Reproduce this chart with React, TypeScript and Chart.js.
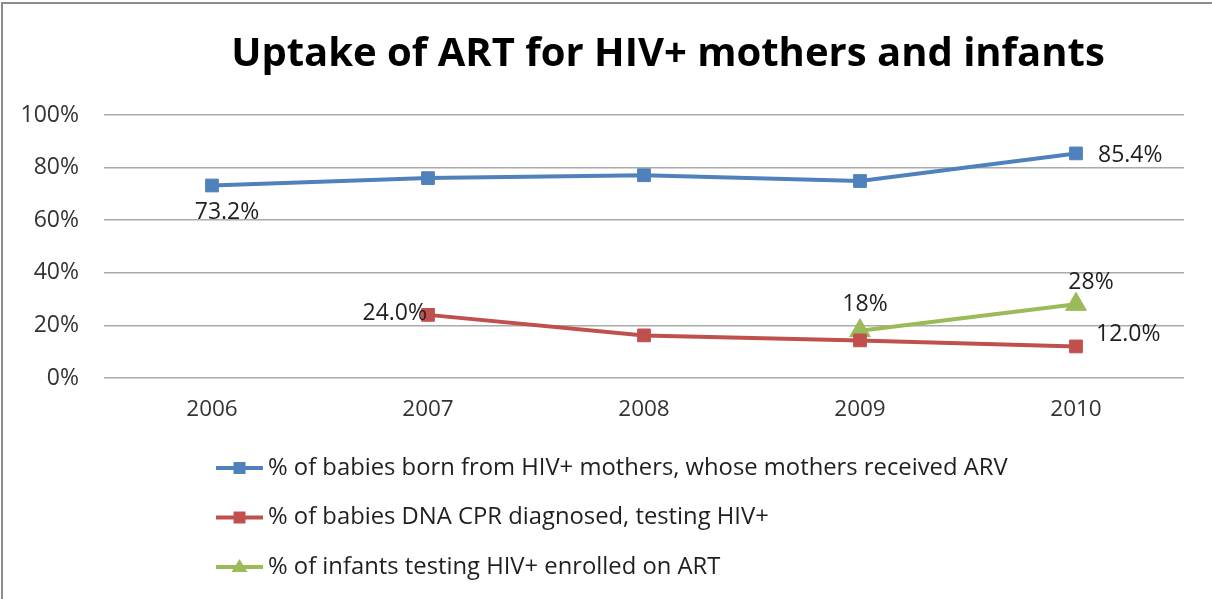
import React, { useEffect, useRef } from "react";
import { Chart, registerables } from "chart.js";

Chart.register(...registerables);

const titleText = "Uptake of ART for HIV+ mothers and infants";
const years = ["2006", "2007", "2008", "2009", "2010"];
const yTicks = [0, 20, 40, 60, 80, 100];

const seriesNames = [
  "% of babies born from HIV+ mothers, whose mothers received ARV",
  "% of babies DNA CPR diagnosed, testing HIV+",
  "% of infants testing HIV+ enrolled on ART",
];
const mothersArv = [73.2, 76.0, 77.1, 74.9, 85.4];
const babiesHivPos = [null, 24.0, 16.2, 14.3, 12.0];
const infantsOnArt = [null, null, null, 18, 28];

// which points carry a value label, and where (style config, not data)
const labelPlacement: Record<number, Record<number, string>> = {
  0: { 0: "below", 4: "right" },
  1: { 1: "left", 4: "rightUp" },
  2: { 3: "above", 4: "aboveRight" },
};
const labelDecimals = [1, 1, 0];

const FONT = "'Open Sans', Lato, sans-serif";
const TITLE_FONT = "'Open Sans', Lato, sans-serif";
const colors = ["#4F81BD", "#C0504D", "#9BBB59"];
const pointStyles = ["rect", "rect", "triangle"];

const labelsPlugin = {
  id: "valueLabels",
  afterDatasetsDraw(chart: any) {
    const ctx = chart.ctx;
    ctx.save();
    ctx.font = `23px ${FONT}`;
    ctx.fillStyle = "#1f1f1f";
    chart.data.datasets.forEach((ds: any, di: number) => {
      const meta = chart.getDatasetMeta(di);
      const place = labelPlacement[di] || {};
      Object.keys(place).forEach((k) => {
        const i = Number(k);
        const v = ds.data[i];
        if (v == null) return;
        const el = meta.data[i];
        const txt = v.toFixed(labelDecimals[di]) + "%";
        const p = place[i];
        let x = el.x, y = el.y;
        ctx.textBaseline = "middle";
        if (p === "below") { ctx.textAlign = "center"; x += 15; y += 27; }
        else if (p === "right") { ctx.textAlign = "left"; x += 22; y += 2; }
        else if (p === "rightUp") { ctx.textAlign = "left"; x += 20; y -= 12; }
        else if (p === "left") { ctx.textAlign = "right"; x -= 1; y -= 1; }
        else if (p === "above") { ctx.textAlign = "center"; x += 5; y -= 26; }
        else if (p === "aboveRight") { ctx.textAlign = "center"; x += 15; y -= 22; }
        ctx.fillText(txt, x, y);
      });
    });
    ctx.restore();
  },
};

const titlePlugin = {
  id: "customTitle",
  afterDraw(chart: any) {
    const ctx = chart.ctx;
    const a = chart.chartArea;
    ctx.save();
    ctx.font = `bold 40px ${TITLE_FONT}`;
    ctx.fillStyle = "#000";
    ctx.textAlign = "center";
    ctx.textBaseline = "middle";
    ctx.fillText(titleText, (a.left + a.right) / 2 + 24, 55);
    ctx.restore();
  },
};

const legendPlugin = {
  id: "customLegend",
  afterDraw(chart: any) {
    const ctx = chart.ctx;
    const a = chart.chartArea;
    ctx.save();
    chart.data.datasets.forEach((ds: any, di: number) => {
      const y = a.bottom + 90 + di * 49.5;
      const x0 = 216, x1 = 263, xm = (x0 + x1) / 2;
      ctx.strokeStyle = ds.borderColor;
      ctx.lineWidth = 4;
      ctx.beginPath();
      ctx.moveTo(x0, y);
      ctx.lineTo(x1, y);
      ctx.stroke();
      ctx.fillStyle = ds.borderColor;
      ctx.beginPath();
      if (ds.pointStyle === "triangle") {
        ctx.moveTo(xm, y - 8);
        ctx.lineTo(xm + 8, y + 5);
        ctx.lineTo(xm - 8, y + 5);
        ctx.closePath();
      } else {
        ctx.rect(xm - 6, y - 6, 12, 12);
      }
      ctx.fill();
      ctx.font = `23.8px ${FONT}`;
      ctx.fillStyle = "#1f1f1f";
      ctx.textAlign = "left";
      ctx.textBaseline = "middle";
      ctx.fillText(ds.label, 268, y);
    });
    ctx.restore();
  },
};

export default function App() {
  const ref = useRef<HTMLCanvasElement | null>(null);
  useEffect(() => {
    if (!ref.current) return;
    const series = [mothersArv, babiesHivPos, infantsOnArt];
    const chart = new Chart(ref.current, {
      type: "line",
      data: {
        labels: years,
        datasets: series.map((d, i) => ({
          label: seriesNames[i],
          data: d,
          borderColor: colors[i],
          backgroundColor: colors[i],
          borderWidth: 4,
          pointStyle: pointStyles[i],
          pointRadius: i === 2 ? 12 : 9,
          pointBorderWidth: 1,
          pointBorderColor: colors[i],
          pointBackgroundColor: colors[i],
          tension: 0,
          spanGaps: false,
        })),
      },
      options: {
        animation: false,
        responsive: false,
        layout: { padding: { top: 115, left: 0, right: 28, bottom: 161 } },
        plugins: {
          legend: { display: false },
          title: { display: false },
          tooltip: { enabled: false },
        },
        scales: {
          x: {
            type: "category",
            offset: true,
            grid: { display: false, drawTicks: false },
            border: { display: false },
            ticks: { font: { family: FONT, size: 22.5 }, color: "#333", padding: 18 },
            afterFit(scale: any) { scale.height = 60; },
          },
          y: {
            min: 0,
            max: 100,
            afterBuildTicks(scale: any) { scale.ticks = yTicks.map((v) => ({ value: v })); },
            grid: { color: "#aaaaaa", lineWidth: 1.5, drawTicks: false },
            border: { display: false },
            ticks: {
              font: { family: FONT, size: 23 },
              color: "#333",
              padding: 25,
              callback: (v: any) => v + "%",
            },
            afterFit(scale: any) { scale.width = 104; },
          },
        },
      },
      plugins: [labelsPlugin, titlePlugin, legendPlugin],
    });
    return () => chart.destroy();
  }, []);
  return (
    <div style={{ position: "absolute", left: 0, top: 0, width: 1212, height: 599, overflow: "hidden", background: "#fff" }}>
      <canvas ref={ref} width={1212} height={599} style={{ display: "block" }} />
      <div
        style={{
          position: "absolute",
          left: 1,
          top: 2,
          width: 1211,
          height: 597,
          boxSizing: "border-box",
          borderTop: "2px solid #8c8c8c",
          borderLeft: "2px solid #8c8c8c",
          pointerEvents: "none",
        }}
      />
    </div>
  );
}
